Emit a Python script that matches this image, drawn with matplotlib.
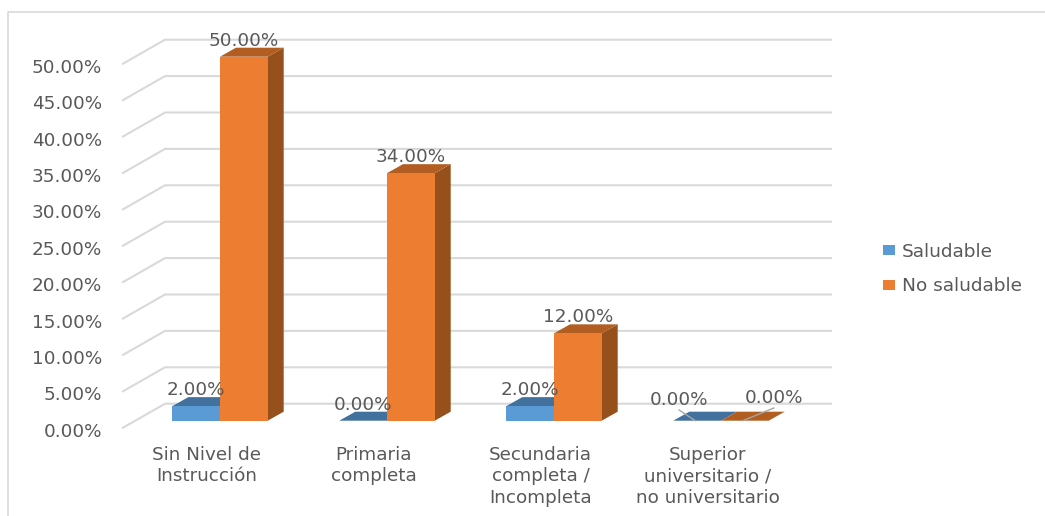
import matplotlib
matplotlib.use("Agg")
import matplotlib.pyplot as plt
from matplotlib.lines import Line2D
from matplotlib.patches import Patch, Polygon
from matplotlib.transforms import ScaledTranslation

categories = ["Sin Nivel de\nInstrucción", "Primaria\ncompleta",
              "Secundaria\ncompleta /\nIncompleta",
              "Superior\nuniversitario /\nno universitario"]
saludable = [2.0, 0.0, 2.0, 0.0]
no_saludable = [50.0, 34.0, 12.0, 0.0]
y_ticks = [0, 5, 10, 15, 20, 25, 30, 35, 40, 45, 50]

W, H = 1045, 516
BLUE, BLUE_TOP = "#5B9BD5", "#41719C"
ORANGE, ORANGE_TOP, ORANGE_SIDE = "#ED7D31", "#B25D21", "#95501C"
TEXT = "#595959"
GRID = "#D9D9D9"
FONT = 13.2

# oblique projection, in data units: wall depth and bar depth
PX_X, PX_Y = 1 / 167, 1 / 7.28
WALL_DX, WALL_DY = 42 * PX_X, 24 * PX_Y
BAR_DX, BAR_DY = 16 * PX_X, 9 * PX_Y
FLOOR_DX, FLOOR_DY = 13.5 * PX_X, 7 * PX_Y
BAR_W = 47.7 * PX_X

fig = plt.figure(figsize=(W / 100, H / 100), dpi=100)
ax = fig.add_axes([123 / W, 1 - 427.7 / H, 668 / W, 364 / H])
ax.set_xlim(-0.5, 3.5)
ax.set_ylim(0, 50)
for s in ax.spines.values():
    s.set_visible(False)

# thin frame around the chart area, open at the bottom and on the right
fig.add_artist(Line2D([7.5 / W, 7.5 / W, 1], [0, 1 - 11.5 / H, 1 - 11.5 / H],
                      color=GRID, lw=1.2))


def draw_bar(left, val, front, top, side):
    x0 = left + FLOOR_DX
    x1 = x0 + BAR_W
    y0 = FLOOR_DY
    y1 = y0 + val
    dx, dy = BAR_DX, BAR_DY
    ax.add_patch(Polygon([(x1, y0), (x1 + dx, y0 + dy), (x1 + dx, y1 + dy), (x1, y1)],
                         fc=side, ec="none", zorder=3, clip_on=False))
    ax.add_patch(Polygon([(x0, y1), (x0 + dx, y1 + dy), (x1 + dx, y1 + dy), (x1, y1)],
                         fc=top, ec="none", zorder=3, clip_on=False))
    if val > 0:
        ax.add_patch(Polygon([(x0, y0), (x1, y0), (x1, y1), (x0, y1)],
                             fc=front, ec="none", zorder=3, clip_on=False))
    return (x0 + x1) / 2, y1


def value_label(xy, val, off_x, off_y):
    ax.annotate(f"{val:.2f}%", xy, xytext=(off_x * 0.72, off_y * 0.72),
                textcoords="offset points", ha="center", va="center",
                fontsize=FONT, color=TEXT, zorder=5, annotation_clip=False)


# gridlines run across the back wall and down the left side wall
for t in y_ticks:
    ax.plot([-0.5, -0.5 + WALL_DX, 3.5 + WALL_DX - 2 * PX_X], [t, t + WALL_DY, t + WALL_DY],
            color=GRID, lw=1.5, clip_on=False, zorder=1)

for i in range(len(categories)):
    xb, yb = draw_bar(i - BAR_W, saludable[i], BLUE, BLUE_TOP, BLUE_TOP)
    xo, yo = draw_bar(i, no_saludable[i], ORANGE, ORANGE_TOP, ORANGE_SIDE)
    if i < 3:
        value_label((xb, yb), saludable[i], 0, 16)
        value_label((xo, yo), no_saludable[i], 0, 16)
    else:
        # the two empty bars get their labels pulled aside with leader lines
        value_label((xb, yb), saludable[i], -18, 20.5)
        value_label((xo, yo), no_saludable[i], 29, 22.5)
        ax.plot([xb - 18 * PX_X, xb - 2 * PX_X], [yb + 10.7 * PX_Y, yb],
                color="#A6A6A6", lw=1, zorder=4)
        ax.plot([xo - 2 * PX_X, xo + 29 * PX_X], [yo, yo + 12.7 * PX_Y],
                color="#A6A6A6", lw=1, zorder=4)

ax.set_yticks(y_ticks)
ax.set_yticklabels([f"{t:.2f}%" for t in y_ticks], fontsize=FONT, color=TEXT)
ax.set_xticks(range(len(categories)))
ax.set_xticklabels(categories, fontsize=13.2, color=TEXT, linespacing=1.25)
ax.tick_params(axis="both", length=0)
ax.tick_params(axis="x", pad=13)
ax.tick_params(axis="y", pad=15)
nudge = ScaledTranslation(0, -2 / 100, fig.dpi_scale_trans)
for lab in ax.get_yticklabels():
    lab.set_transform(lab.get_transform() + nudge)

handles = [Patch(fc=BLUE, label="Saludable"), Patch(fc=ORANGE, label="No saludable")]
fig.legend(handles=handles, loc="center left", bbox_to_anchor=(883 / W, 1 - 269 / H),
           frameon=False, fontsize=13.3, labelcolor=TEXT, handlelength=0.65, handleheight=0.45,
           handletextpad=0.38, labelspacing=0.9, borderpad=0, borderaxespad=0)

fig.savefig("out.png", dpi=100)
